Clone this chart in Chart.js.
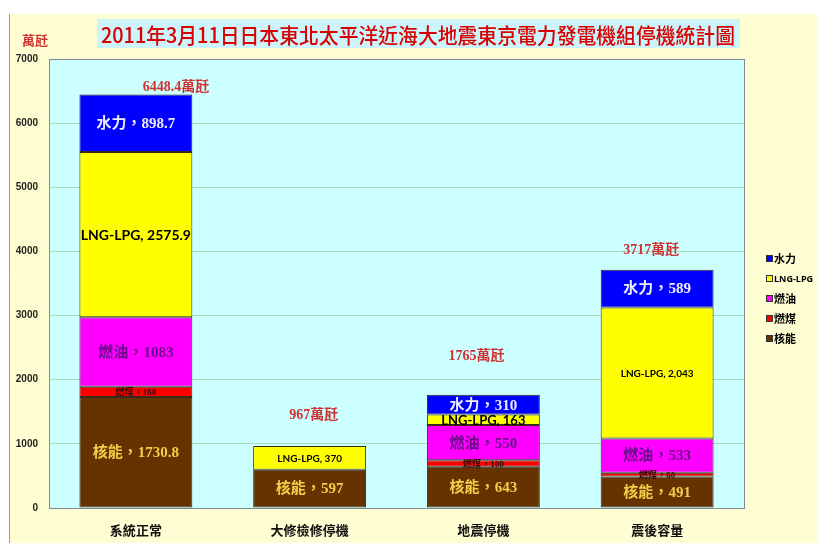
<!DOCTYPE html>
<html><head><meta charset="utf-8">
<script src="https://cdn.jsdelivr.net/npm/chart.js@4/dist/chart.umd.min.js"></script>
<style>html,body{margin:0;padding:0;background:#fff;}#wrap{width:817px;height:543px;position:relative;}</style>
</head><body><div id="wrap"><canvas id="c" width="817" height="543"></canvas></div>
<script>
const categories = ['系統正常', '大修檢修停機', '地震停機', '震後容量'];
const nuclear = [1730.8, 597, 643, 491];
const coal = [160, 0, 100, 60];
const oil = [1083, 0, 550, 533];
const lng = [2575.9, 370, 163, 2043];
const hydro = [898.7, 0, 310, 589];
const totals = ['6448.4', '967', '1765', '3717'];
const lngText = ['2575.9', '370', '163', '2,043'];
const yTicks = [0, 1000, 2000, 3000, 4000, 5000, 6000, 7000];
const titleText = '2011年3月11日日本東北太平洋近海大地震東京電力發電機組停機統計圖';
const unitText = '萬瓩';

const SERIF = '"Liberation Serif", "Noto Sans CJK TC", serif';
const SANS = '"Liberation Sans", "Noto Sans CJK TC", sans-serif';

const bgPlugin = {
  id: 'bg',
  beforeDraw(chart) {
    const ctx = chart.ctx, a = chart.chartArea;
    ctx.save();
    ctx.fillStyle = '#fff';
    ctx.fillRect(0, 0, 817, 543);
    ctx.fillStyle = '#FFFDD2';
    ctx.fillRect(9, 14, 808, 529);
    ctx.strokeStyle = '#9a9a9a';
    ctx.lineWidth = 1;
    ctx.beginPath(); ctx.moveTo(9.5, 14); ctx.lineTo(9.5, 543); ctx.stroke();
    ctx.fillStyle = '#CCFFFF';
    ctx.fillRect(a.left, a.top, a.right - a.left, a.bottom - a.top);
    // title box
    ctx.fillStyle = '#CCF4FA';
    ctx.fillRect(97, 19, 643, 29);
    ctx.font = '500 21px "Noto Sans CJK TC", sans-serif';
    const w = ctx.measureText(titleText).width;
    const target = 634;
    ctx.translate(101, 34);
    ctx.scale(target / w, 1);
    ctx.fillStyle = '#D80000';
    ctx.textBaseline = 'middle';
    ctx.textAlign = 'left';
    ctx.fillText(titleText, 0, 1);
    ctx.restore();
    ctx.save();
    ctx.font = 'bold 13px ' + SERIF;
    ctx.fillStyle = '#D03030';
    ctx.textBaseline = 'middle';
    ctx.fillText(unitText, 22, 42);
    ctx.restore();
  },
  afterDraw(chart) {
    const ctx = chart.ctx, a = chart.chartArea;
    ctx.save();
    ctx.strokeStyle = '#7f8c8c';
    ctx.lineWidth = 1;
    ctx.strokeRect(Math.round(a.left) + 0.5, Math.round(a.top) + 0.5, Math.round(a.right - a.left), Math.round(a.bottom - a.top));
    // legend
    const items = [...chart.data.datasets].reverse();
    items.forEach((ds, i) => {
      const y = 258 + i * 20;
      ctx.fillStyle = ds.backgroundColor;
      ctx.fillRect(766, y - 3, 7, 7);
      ctx.strokeStyle = '#333';
      ctx.strokeRect(766.5, y - 2.5, 6, 6);
      ctx.fillStyle = '#000';
      ctx.textBaseline = 'middle';
      ctx.textAlign = 'left';
      ctx.font = ds.label === 'LNG-LPG' ? 'bold 9px "Open Sans", sans-serif' : 'bold 11px "Noto Sans CJK TC", sans-serif';
      ctx.fillText(ds.label, 774, y + 1);
    });
    ctx.restore();
  }
};

const labelPlugin = {
  id: 'seglabels',
  afterDatasetsDraw(chart, args, opts) {
    const ctx = chart.ctx;
    ctx.save();
    ctx.textAlign = 'center';
    ctx.textBaseline = 'middle';
    chart.data.datasets.forEach((ds, di) => {
      const meta = chart.getDatasetMeta(di);
      meta.data.forEach((bar, i) => {
        const v = ds.data[i];
        if (!v) return;
        const st = ds.lbl;
        const size = st.sizes[i];
        ctx.font = 'bold ' + size + 'px ' + st.family;
        ctx.fillStyle = st.color;
        const txt = st.text(i);
        const cy = (bar.y + bar.base) / 2;
        const maxW = bar.width + 4;
        const mw = ctx.measureText(txt).width;
        if (mw > maxW) {
          ctx.save();
          ctx.translate(bar.x, cy);
          ctx.scale(maxW / mw, 1);
          ctx.fillText(txt, 0, 1);
          ctx.restore();
        } else {
          ctx.fillText(txt, bar.x, cy + 1);
        }
      });
    });
    // totals
    const lastMeta = chart.getDatasetMeta(chart.data.datasets.length - 1);
    const ys = chart.scales.y;
    ctx.font = 'bold 14px ' + SERIF;
    ctx.fillStyle = '#D03030';
    totals.forEach((t, i) => {
      const bar = lastMeta.data[i];
      const top = ys.getPixelForValue(parseFloat(t));
      ctx.fillText(t + '萬瓩', bar.x + opts.dx[i], top + opts.dy[i]);
    });
    ctx.restore();
  }
};

function ds(label, data, color, lbl) {
  return { label, data, backgroundColor: color, borderColor: '#3a2a1a', borderWidth: 1, borderSkipped: false, lbl };
}

new Chart(document.getElementById('c'), {
  type: 'bar',
  data: {
    labels: categories,
    datasets: [
      ds('核能', nuclear, '#663300', { color: '#F2CF4A', family: SERIF, sizes: [15, 15, 15, 15], text: i => '核能，' + nuclear[i] }),
      ds('燃煤', coal, '#FF0000', { color: '#3a0000', family: SERIF, sizes: [9, 9, 9, 9], text: i => '燃煤，' + coal[i] }),
      ds('燃油', oil, '#FF00FF', { color: '#6a0a8a', family: SERIF, sizes: [15, 15, 15, 15], text: i => '燃油，' + oil[i] }),
      ds('LNG-LPG', lng, '#FFFF00', { color: '#000', family: '"Lato", "Open Sans", sans-serif', sizes: [14, 10, 13, 10], text: i => 'LNG-LPG, ' + lngText[i] }),
      ds('水力', hydro, '#0000FF', { color: '#EDEDFF', family: SERIF, sizes: [15, 15, 15, 15], text: i => '水力，' + hydro[i] })
    ]
  },
  options: {
    responsive: false,
    animation: false,
    devicePixelRatio: 1,
    layout: { padding: { left: 0, top: 59, right: 73, bottom: 0 } },
    plugins: {
      legend: { display: false },
      tooltip: { enabled: false },
      seglabels: { dx: [40, 4, -7, -6], dy: [-7, -31, -38, -19] }
    },
    datasets: { bar: { categoryPercentage: 0.65, barPercentage: 1 } },
    scales: {
      x: {
        stacked: true,
        grid: { display: false, drawTicks: false },
        border: { display: false },
        ticks: { color: '#111', font: { family: '"Noto Sans CJK TC", sans-serif', weight: 'bold', size: 13 }, padding: 14 },
        afterFit(s) { s.height = 35; }
      },
      y: {
        stacked: true,
        min: 0, max: 7000,
        afterBuildTicks(s) { s.ticks = yTicks.map(v => ({ value: v })); },
        grid: { color: '#A9DCB4', drawTicks: false, lineWidth: 1 },
        border: { display: false },
        ticks: { color: '#222', font: { family: SANS, weight: 'bold', size: 10 }, padding: 11, callback: v => String(v) },
        afterFit(s) { s.width = 49; }
      }
    }
  },
  plugins: [bgPlugin, labelPlugin]
});
</script>
</body></html>
